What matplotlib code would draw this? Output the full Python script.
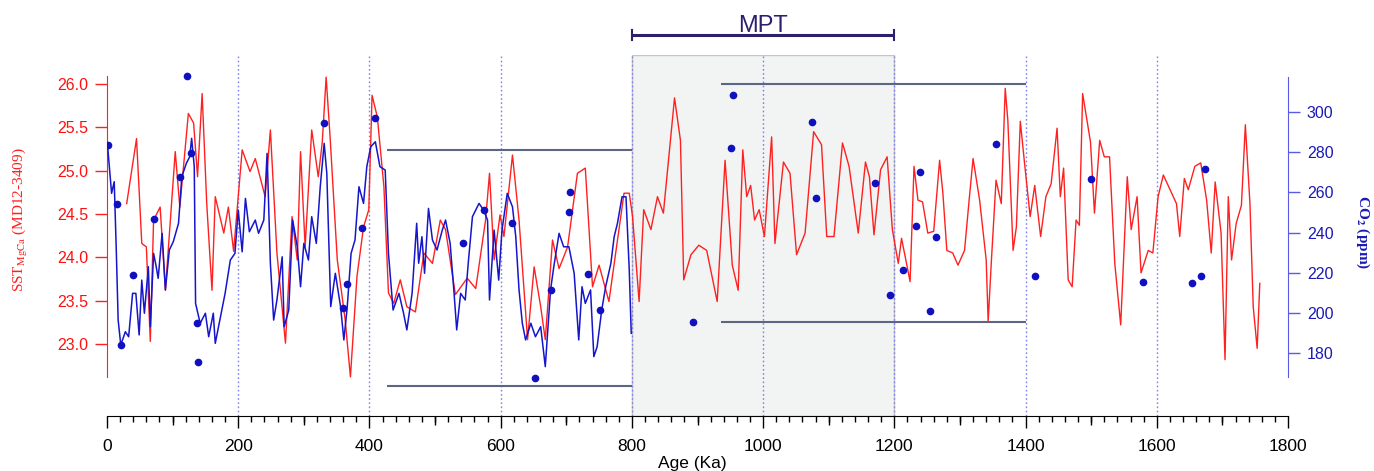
import matplotlib
matplotlib.use('Agg')
import matplotlib.pyplot as plt
from matplotlib.ticker import MultipleLocator, FormatStrFormatter
import numpy as np

# ---------------- data ----------------
sst_age = [30, 45, 53, 60, 66, 71, 81, 89, 104, 111,
           124, 132, 138, 145, 152, 160, 165, 178, 185, 193,
           206, 218, 226, 241, 249, 259, 272, 282, 290, 295,
           302, 312, 322, 328, 334, 340, 345, 351, 363, 371,
           381, 391, 399, 404, 412, 422, 429, 437, 447, 457,
           470, 483, 496, 508, 516, 531, 549, 562, 577, 583,
           590, 599, 605, 618, 628, 641, 651, 661, 668, 679,
           689, 702, 717, 729, 740, 750, 765, 788, 796, 801,
           811, 818, 829, 839, 848, 865, 874, 879, 890, 902,
           914, 930, 942, 953, 962, 969, 975, 981, 987, 994,
           1002, 1013, 1018, 1031, 1041, 1051, 1064, 1077, 1089, 1097,
           1108, 1121, 1131, 1145, 1156, 1162, 1169, 1179, 1189, 1197,
           1206, 1211, 1224, 1230, 1236, 1243, 1251, 1260, 1269, 1274,
           1280, 1289, 1297, 1307, 1314, 1320, 1330, 1340, 1343, 1348,
           1355, 1363, 1369, 1373, 1381, 1386, 1392, 1398, 1407, 1414,
           1423, 1431, 1439, 1448, 1453, 1458, 1465, 1471, 1477, 1482,
           1487, 1499, 1505, 1513, 1520, 1528, 1536, 1545, 1555, 1561,
           1570, 1576, 1587, 1594, 1602, 1610, 1630, 1635, 1642, 1648,
           1658, 1667, 1676, 1683, 1689, 1698, 1704, 1709, 1714, 1721,
           1729, 1735, 1742, 1747, 1753, 1757]
sst_mgca = [24.62, 25.37, 24.16, 24.12, 23.03, 24.43, 24.58, 23.62, 25.22, 24.58,
            25.66, 25.55, 24.93, 25.89, 24.62, 23.62, 24.70, 24.28, 24.58, 24.07,
            25.24, 24.99, 25.14, 24.70, 25.47, 24.05, 23.01, 24.47, 23.97, 25.22,
            24.12, 25.47, 24.93, 25.32, 26.08, 25.39, 24.74, 23.97, 23.28, 22.62,
            23.78, 24.35, 24.55, 25.87, 25.62, 24.82, 23.59, 23.47, 23.74, 23.43,
            23.37, 24.05, 23.93, 24.43, 24.32, 23.57, 23.76, 23.64, 24.43, 24.97,
            23.97, 24.49, 24.24, 25.18, 24.43, 23.05, 23.89, 23.43, 23.05, 24.20,
            23.87, 24.12, 24.97, 25.03, 23.66, 23.91, 23.49, 24.74, 24.74, 24.47,
            23.49, 24.55, 24.32, 24.70, 24.51, 25.84, 25.35, 23.74, 24.03, 24.14,
            24.08, 23.49, 25.12, 23.91, 23.62, 25.24, 24.70, 24.83, 24.43, 24.55,
            24.24, 25.39, 24.16, 25.10, 24.97, 24.03, 24.28, 25.45, 25.30, 24.24,
            24.24, 25.32, 25.05, 24.28, 25.10, 24.93, 24.26, 25.01, 25.16, 24.32,
            23.93, 24.22, 23.72, 25.05, 24.66, 24.64, 24.28, 24.30, 25.12, 24.74,
            24.08, 24.05, 23.91, 24.08, 24.66, 25.14, 24.66, 23.97, 23.26, 23.97,
            24.89, 24.62, 25.95, 25.58, 24.08, 24.35, 25.57, 25.12, 24.47, 24.83,
            24.24, 24.70, 24.85, 25.49, 24.70, 25.03, 23.74, 23.66, 24.43, 24.37,
            25.89, 25.33, 24.51, 25.35, 25.16, 25.16, 23.93, 23.22, 24.93, 24.32,
            24.70, 23.82, 24.08, 24.05, 24.70, 24.95, 24.62, 24.24, 24.91, 24.78,
            25.05, 25.09, 24.66, 24.05, 24.87, 24.28, 22.82, 24.70, 23.97, 24.39,
            24.60, 25.53, 24.62, 23.43, 22.95, 23.70]

co2_age = [1, 7, 11, 14, 17, 21, 28, 33, 39, 44,
           49, 53, 57, 63, 66, 71, 75, 78, 84, 89,
           95, 101, 109, 114, 121, 126, 129, 133, 135, 142,
           150, 155, 162, 165, 172, 180, 188, 195, 200, 206,
           211, 217, 226, 231, 239, 244, 249, 254, 259, 267,
           270, 277, 283, 290, 295, 300, 307, 312, 319, 325,
           331, 335, 341, 348, 356, 361, 366, 372, 378, 384,
           391, 396, 402, 409, 416, 424, 429, 436, 445, 452,
           457, 465, 472, 475, 480, 484, 490, 496, 503, 511,
           516, 523, 529, 533, 539, 546, 551, 557, 567, 574,
           580, 583, 590, 597, 602, 610, 618, 623, 628, 633,
           638, 646, 653, 661, 668, 676, 681, 689, 696, 704,
           712, 719, 724, 729, 737, 742, 747, 754, 760, 768,
           773, 778, 785, 791, 796, 799]
co2_ppm = [282.7, 259.5, 265.3, 232.9, 196.4, 184.0, 190.6, 188.1, 209.7, 209.7,
           189.0, 216.3, 199.8, 223.0, 193.1, 229.6, 223.0, 217.2, 239.6, 211.4,
           231.3, 235.4, 244.6, 267.8, 274.5, 277.7, 286.9, 272.8, 204.7, 194.8,
           199.8, 188.1, 199.8, 184.8, 196.4, 209.7, 226.3, 229.6, 251.2, 230.4,
           257.0, 240.4, 246.2, 239.6, 246.2, 279.4, 224.7, 196.4, 206.4, 227.9,
           193.1, 201.4, 246.2, 232.9, 213.0, 234.6, 226.3, 247.9, 234.6, 262.8,
           284.4, 269.5, 203.1, 219.7, 203.1, 186.5, 202.3, 229.6, 236.3, 262.8,
           254.5, 272.8, 282.7, 285.2, 272.8, 271.1, 229.6, 201.4, 209.7, 199.8,
           191.5, 209.7, 244.6, 224.7, 237.9, 219.7, 252.0, 236.3, 231.3, 241.2,
           246.2, 234.6, 209.7, 191.5, 209.7, 206.4, 226.3, 247.9, 254.5, 251.2,
           246.2, 206.4, 241.2, 216.3, 241.2, 259.5, 252.8, 237.9, 211.4, 194.8,
           186.5, 194.8, 188.1, 193.1, 173.2, 211.4, 223.0, 239.6, 232.9, 232.9,
           219.7, 186.5, 213.0, 204.7, 211.4, 178.2, 183.1, 201.4, 213.0, 224.7,
           237.9, 244.6, 257.8, 257.8, 221.3, 189.8]

dot_age = [2, 15, 21, 40, 72, 111, 122, 128, 137, 139,
           330, 360, 366, 388, 409, 543, 575, 618, 705, 704,
           733, 676, 752, 652, 954, 951, 893, 1074, 1080, 1171,
           1193, 1213, 1239, 1233, 1254, 1264, 1355, 1415, 1500, 1579,
           1654, 1668, 1674]
dot_co2 = [283.6, 254.2, 184.0, 218.8, 246.7, 267.6, 317.9, 279.6, 194.9, 175.5,
           294.5, 202.4, 214.4, 242.2, 297.0, 234.8, 251.2, 244.7, 260.2, 250.2,
           219.3, 211.4, 201.4, 167.5, 308.5, 282.1, 195.4, 295.0, 257.2, 264.6,
           208.9, 221.3, 270.1, 243.2, 200.9, 237.8, 284.1, 218.3, 266.6, 215.4,
           214.9, 218.3, 271.6]

# reference CO2 levels (start age, end age, ppm)
ref_start = [427, 427, 936, 936]
ref_end = [800, 800, 1400, 1400]
ref_co2 = [281.1, 163.8, 313.9, 195.4]

grid_ages = [200, 400, 600, 800, 1000, 1200, 1400, 1600]
mpt_start, mpt_end = 800, 1200

sst_ticks = [23.0, 23.5, 24.0, 24.5, 25.0, 25.5, 26.0]
co2_ticks = [180, 200, 220, 240, 260, 280, 300]
age_ticks = [0, 200, 400, 600, 800, 1000, 1200, 1400, 1600, 1800]

# ---------------- figure ----------------
plt.rcParams['font.family'] = ['Liberation Sans', 'DejaVu Sans']
plt.rcParams['mathtext.fontset'] = 'stix'

W, H = 1374, 471
fig = plt.figure(figsize=(W / 100, H / 100), dpi=100)
ax = fig.add_axes([107 / W, 1 - 416 / H, 1181 / W, 361 / H])
ax2 = ax.twinx()

ax.set_xlim(0, 1800)
ax.set_ylim(22.169, 26.335)
ax2.set_ylim(148.63, 328.4)

ax.axvspan(mpt_start, mpt_end, facecolor='#f2f3f3', edgecolor='#c4c4c4', lw=1, zorder=0)
for g in grid_ages:
    ax.axvline(g, color='#8080f0', ls=(0, (1.2, 1.8)), lw=1, zorder=1)

ax.plot(sst_age, sst_mgca, color='#ff2020', lw=1.0, zorder=3)
ax2.plot(co2_age, co2_ppm, color='#1515cc', lw=1.1, zorder=3)
ax2.plot(dot_age, dot_co2, 'o', color='#1010c0', ms=4.5, ls='none', zorder=4)
ax2.hlines(ref_co2, ref_start, ref_end, color='#5c6680', lw=1.5, zorder=2)

# spines
for a in (ax, ax2):
    a.spines['top'].set_visible(False)
ax.spines['right'].set_visible(False)
ax2.spines['left'].set_visible(False)
ax2.spines['bottom'].set_visible(False)
ax.spines['left'].set_bounds(22.62, 26.09)
ax.spines['left'].set_color('#ff2020')
ax2.spines['right'].set_bounds(168, 317.4)
ax2.spines['right'].set_color('#5a5ae6')

# y ticks
ax.set_yticks(sst_ticks)
ax.yaxis.set_major_formatter(FormatStrFormatter('%.1f'))
ax.tick_params(axis='y', colors='#ff2020', labelcolor='#ff1010', length=8.6, width=1,
               pad=5, labelsize=11.5)
ax2.set_yticks(co2_ticks)
ax2.tick_params(axis='y', colors='#5a5ae6', labelcolor='#1a1ab4', length=8.6, width=1,
                pad=5, labelsize=11.5)

# x ticks
ax.set_xticks(age_ticks)
ax.xaxis.set_minor_locator(MultipleLocator(20))
ax.tick_params(axis='x', which='major', length=8.6, width=1, pad=8, labelsize=12.5)
ax.tick_params(axis='x', which='minor', length=4.3, width=1)
sec = ax.secondary_xaxis('bottom')
mid = list(range(100, 1800, 200))
sec.set_xticks(mid, labels=[''] * len(mid))
sec.tick_params(axis='x', length=6.5, width=1)
sec.spines['bottom'].set_visible(False)

# labels
fig.text(20 / W, 1 - 220 / H, r'SST$_{\mathrm{MgCa}}$ (MD12-3409)', rotation=90,
         color='#ff2020', family='Liberation Serif', fontsize=11, ha='center', va='center')
fig.text(1363 / W, 1 - 232 / H, r'CO$_\mathbf{2}$ (ppm)', rotation=270,
         color='#1a1ab4', family='Liberation Serif', fontweight='bold', fontsize=11,
         ha='center', va='center')
fig.text(692 / W, 1 - 456 / H, 'Age (Ka)', ha='center', va='top', fontsize=12.5)

# MPT bar
tr = ax.get_xaxis_transform()
ax.plot([mpt_start, mpt_end], [1.0554, 1.0554], transform=tr, color='#2b1f6e', lw=2.2,
        clip_on=False, solid_capstyle='butt')
for xe in (mpt_start, mpt_end):
    ax.plot([xe, xe], [1.042, 1.069], transform=tr, color='#2b1f6e', lw=1.5, clip_on=False)
ax.text((mpt_start + mpt_end) / 2, 1.0637, 'MPT', transform=tr, ha='center', va='baseline',
        fontsize=17, color='#2b1f6e')

fig.savefig('out.png', dpi=100)
